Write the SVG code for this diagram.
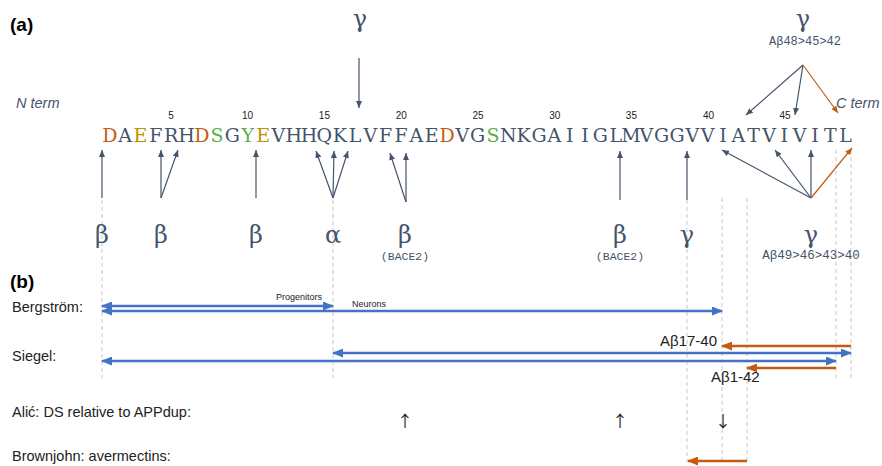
<svg xmlns="http://www.w3.org/2000/svg" width="882" height="466" viewBox="0 0 882 466">
<defs>
<marker id="ah" markerWidth="7" markerHeight="6" refX="7" refY="3" orient="auto" markerUnits="userSpaceOnUse"><path d="M0,0 L7,3 L0,6 z" fill="#44546A"/></marker>
<marker id="ahO" markerWidth="7" markerHeight="6" refX="7" refY="3" orient="auto" markerUnits="userSpaceOnUse"><path d="M0,0 L7,3 L0,6 z" fill="#C55A11"/></marker>
<marker id="bl" markerWidth="11" markerHeight="9" refX="10" refY="4.5" orient="auto-start-reverse" markerUnits="userSpaceOnUse"><path d="M0,0 L11,4.5 L0,9 z" fill="#4472C4"/></marker>
<marker id="or" markerWidth="11" markerHeight="9" refX="10" refY="4.5" orient="auto-start-reverse" markerUnits="userSpaceOnUse"><path d="M0,0 L11,4.5 L0,9 z" fill="#C55A11"/></marker>
</defs>
<style>
.seq{font-family:"DejaVu Serif","Liberation Serif",serif;font-size:19px;fill:#44546A;text-anchor:middle}
.o{fill:#C55A11}.y{fill:#BF9000}.g{fill:#5DAE4B}
.num{font-family:"Liberation Sans",Arial,sans-serif;font-size:10px;fill:#222;text-anchor:middle}
.gr{font-family:"DejaVu Serif","Liberation Serif",serif;font-size:24px;fill:#44546A;text-anchor:middle}
.mono{font-family:"Liberation Mono","Courier New",monospace;fill:#44546A;text-anchor:middle}
.term{font-family:"Liberation Sans",Arial,sans-serif;font-size:14.5px;font-style:italic;fill:#44546A}
.hd{font-family:"Liberation Sans",Arial,sans-serif;font-size:19px;font-weight:bold;fill:#000}
.lab{font-family:"Liberation Sans",Arial,sans-serif;font-size:14.5px;fill:#222}
.sm{font-family:"Liberation Sans",Arial,sans-serif;font-size:9px;fill:#222}
.ab{font-family:"Liberation Sans",Arial,sans-serif;font-size:15px;fill:#222}
.arr{font-family:"Noto Sans CJK JP","Noto Sans CJK SC","DejaVu Sans",sans-serif;font-size:16px;fill:#222;text-anchor:middle}
.sl{stroke:#44546A;stroke-width:1.2;fill:none;marker-end:url(#ah)}
.slo{stroke:#C55A11;stroke-width:1.2;fill:none;marker-end:url(#ahO)}
.dash{stroke:#C8C8C8;stroke-width:1;stroke-dasharray:4 3;fill:none}
.blu{stroke:#4472C4;stroke-width:2.5;fill:none;marker-start:url(#bl);marker-end:url(#bl)}
.org{stroke:#C55A11;stroke-width:2.5;fill:none;marker-end:url(#or)}
</style>
<rect width="882" height="466" fill="#fff"/>

<g id="guides">
<line class="dash" x1="102" y1="200" x2="102" y2="378"/>
<line class="dash" x1="333" y1="200" x2="333" y2="378"/>
<line class="dash" x1="687" y1="200" x2="687" y2="462"/>
<line class="dash" x1="722" y1="198" x2="722" y2="462"/>
<line class="dash" x1="747" y1="198" x2="747" y2="462"/>
<line class="dash" x1="836" y1="150" x2="836" y2="378"/>
<line class="dash" x1="851" y1="150" x2="851" y2="378"/>
</g>

<g id="labels-a">
<text class="hd" x="10" y="31">(a)</text>
<text class="term" x="16" y="108">N term</text>
<text class="term" x="836" y="108">C term</text>
</g>

<g id="numbers">
<text class="num" x="171" y="118.5">5</text>
<text class="num" x="247.5" y="118.5">10</text>
<text class="num" x="324.4" y="118.5">15</text>
<text class="num" x="401.3" y="118.5">20</text>
<text class="num" x="478" y="118.5">25</text>
<text class="num" x="554.7" y="118.5">30</text>
<text class="num" x="631.4" y="118.5">35</text>
<text class="num" x="708.5" y="118.5">40</text>
<text class="num" x="785" y="118.5">45</text>
</g>

<g id="sequence">
<text class="seq" y="141.5" x="109.8 125.1 140.5 155.8 171.1 186.5 201.8 217.1 232.4 247.8 263.1 278.4 293.8 309.1 324.4 339.8 355.1 370.4 385.7 401.1 416.4 431.7 447.1 462.4 477.7 493.1 508.4 523.7 539.0 554.4 569.7 585.0 600.4 615.7 631.0 646.4 661.7 677.0 692.3 707.7 723.0 738.3 753.7 769.0 784.3 799.7 815.0 830.3 845.6"><tspan class="o">D</tspan>A<tspan class="y">E</tspan>FRH<tspan class="o">D</tspan><tspan class="g">S</tspan>G<tspan class="g">Y</tspan><tspan class="y">E</tspan>VHHQKLVFFAE<tspan class="o">D</tspan>VG<tspan class="g">S</tspan>NKGAIIGLMVGGVVIATVIVITL</text>
</g>

<g id="top-gamma">
<text class="gr" x="360" y="27">γ</text>
</g>
<g id="top-gamma-right">
<text class="gr" x="803" y="27">γ</text>
<text class="mono" x="805" y="45" font-size="12">Aβ48&gt;45&gt;42</text>
</g>

<g id="cleavage-labels">
<text class="gr" x="102" y="243">β</text>
<text class="gr" x="161" y="243">β</text>
<text class="gr" x="256" y="243">β</text>
<text class="gr" x="333" y="243">α</text>
<text class="gr" x="405" y="243">β</text>
<text class="mono" x="405" y="260" font-size="11.5">(BACE2)</text>
<text class="gr" x="620" y="243">β</text>
<text class="mono" x="620" y="260" font-size="11.5">(BACE2)</text>
<text class="gr" x="687" y="243">γ</text>
<text class="gr" x="811" y="243">γ</text>
<text class="mono" x="811" y="259" font-size="12.5">Aβ49&gt;46&gt;43&gt;40</text>
</g>

<g id="connectors">
<line class="sl" x1="359" y1="58" x2="359" y2="108"/>
<line class="sl" x1="803" y1="65" x2="746" y2="115"/>
<line class="sl" x1="803" y1="65" x2="795" y2="115"/>
<line class="slo" x1="803" y1="65" x2="838" y2="113"/>
<line class="sl" x1="102" y1="198" x2="102" y2="150"/>
<line class="sl" x1="161" y1="198" x2="161" y2="150"/>
<line class="sl" x1="161" y1="198" x2="178" y2="150"/>
<line class="sl" x1="256" y1="198" x2="256" y2="150"/>
<line class="sl" x1="333" y1="198" x2="316" y2="151"/>
<line class="sl" x1="333" y1="198" x2="334" y2="151"/>
<line class="sl" x1="333" y1="198" x2="348" y2="151"/>
<line class="sl" x1="406" y1="202" x2="390" y2="153"/>
<line class="sl" x1="406" y1="202" x2="406" y2="153"/>
<line class="sl" x1="620" y1="200" x2="620" y2="151"/>
<line class="sl" x1="687" y1="200" x2="687" y2="151"/>
<line class="sl" x1="811" y1="198" x2="722" y2="150"/>
<line class="sl" x1="811" y1="198" x2="775" y2="150"/>
<line class="sl" x1="811" y1="198" x2="811" y2="150"/>
<line class="slo" x1="811" y1="198" x2="852" y2="148"/>
</g>

<g id="labels-b">
<text class="hd" x="10" y="288">(b)</text>
<text class="lab" x="12" y="312">Bergström:</text>
<text class="lab" x="12" y="361">Siegel:</text>
<text class="lab" x="12" y="417">Alić: DS relative to APPdup:</text>
<text class="lab" x="12" y="461">Brownjohn: avermectins:</text>
</g>

<g id="bergstrom">
<line class="blu" x1="102" y1="306" x2="333" y2="306"/>
<line class="blu" x1="102" y1="311" x2="722" y2="311"/>
<text class="sm" x="322" y="300" text-anchor="end">Progenitors</text>
<text class="sm" x="352" y="307">Neurons</text>
</g>

<g id="siegel">
<line class="blu" x1="333" y1="353" x2="851" y2="353"/>
<line class="blu" x1="102" y1="361" x2="836" y2="361"/>
<line class="org" x1="851" y1="346" x2="722" y2="346"/>
<line class="org" x1="836" y1="368" x2="747" y2="368"/>
<text class="ab" x="717" y="346" text-anchor="end">Aβ17-40</text>
<text class="ab" x="711" y="382">Aβ1-42</text>
</g>

<g id="alic">
<text class="arr" x="405" y="427">↑</text>
<text class="arr" x="620" y="427">↑</text>
<text class="arr" x="723" y="427">↓</text>
</g>

<g id="brownjohn">
<line class="org" x1="747" y1="461" x2="688" y2="461"/>
</g>
</svg>
